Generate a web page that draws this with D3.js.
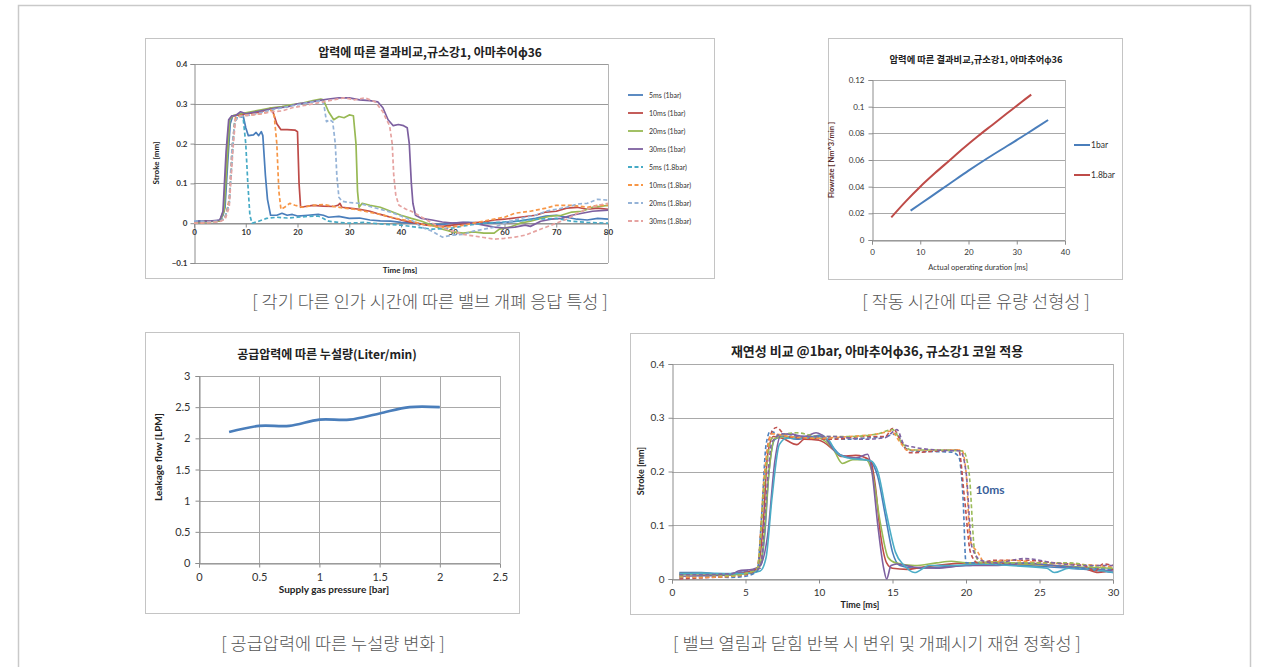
<!DOCTYPE html>
<html><head><meta charset="utf-8">
<script src="https://cdn.jsdelivr.net/npm/d3@7"></script>
<style>
body{margin:0;background:#fff;}
svg{display:block;}
</style></head>
<body>
<svg id="c" width="1261" height="667"></svg>
<script>
// ---------- Panel 1 data : stroke vs time, 8 series ----------
const p1Names = ["5ms (1bar)","10ms (1bar)","20ms (1bar)","30ms (1bar)","5ms (1.8bar)","10ms (1.8bar)","20ms (1.8bar)","30ms (1.8bar)"];
const p1Colors = ["#4a7ebb","#be4b48","#98b954","#7d60a0","#46aac5","#f79646","#95b3d7","#e6a3a1"];
const p1Dashed = [false,false,false,false,true,true,true,true];
const p1XTicks = [0,10,20,30,40,50,60,70,80];
const p1YTicks = [-0.1,0,0.1,0.2,0.3,0.4];
const s5_1 = [[0,0.005],[2,0.006],[4,0.005],[5,0.008],[5.6,0.02],[6,0.04],[6.5,0.15],[7,0.25],[7.5,0.27],[8.5,0.272],[9.5,0.27],[10,0.24],[10.5,0.22],[11.5,0.222],[12,0.228],[12.5,0.22],[13,0.23],[13.3,0.22],[13.8,0.12],[14.2,0.06],[14.8,0.02],[16,0.02],[17,0.025],[18,0.02],[19,0.022],[20,0.018],[22,0.02],[24,0.022],[25,0.02],[26,0.015],[28,0.017],[30,0.012],[32,0.013],[34,0.008],[36,0.006],[38,0.005],[40,0.002],[42,0],[45,-0.002],[48,-0.003],[50,0],[53,0.002],[56,0],[60,0.002],[63,0.006],[66,0.012],[68,0.018],[70,0.02],[72,0.015],[74,0.01],[76,0.008],[78,0.012],[80,0.01]];
const s10_1 = [[0,0.003],[3,0.005],[5,0.006],[5.7,0.03],[6.3,0.15],[6.8,0.26],[7.5,0.27],[9,0.272],[10,0.275],[12,0.278],[13,0.28],[14,0.285],[15,0.29],[15.5,0.27],[16,0.25],[16.8,0.235],[18,0.235],[19.5,0.234],[20,0.23],[20.3,0.1],[20.6,0.04],[21.5,0.042],[23,0.045],[25,0.043],[27,0.042],[27.8,0.045],[28.2,0.05],[28.6,0.04],[30,0.038],[32,0.035],[34,0.03],[36,0.022],[38,0.015],[40,0.008],[42,0.002],[45,-0.005],[48,-0.008],[50,-0.005],[53,0],[56,0.003],[58,0.008],[60,0.01],[63,0.015],[66,0.02],[68,0.028],[70,0.03],[72,0.038],[74,0.04],[76,0.035],[78,0.038],[80,0.035]];
const s20_1 = [[0,0.002],[3,0.004],[5,0.006],[5.8,0.03],[6.4,0.16],[6.9,0.26],[7.5,0.27],[9,0.275],[11,0.28],[13,0.285],[15,0.29],[17,0.293],[19,0.298],[21,0.302],[23,0.308],[24.5,0.312],[25,0.31],[26,0.28],[27,0.26],[28,0.268],[29,0.265],[30,0.272],[30.8,0.27],[31.3,0.2],[31.6,0.08],[31.9,0.04],[32.5,0.05],[34,0.045],[36,0.04],[38,0.03],[40,0.02],[42,0.012],[44,0.005],[46,-0.005],[48,-0.015],[50,-0.022],[52,-0.025],[54,-0.022],[56,-0.025],[58,-0.025],[59,-0.015],[61,-0.01],[63,0],[65,0.005],[67,0.012],[69,0.018],[71,0.02],[73,0.028],[75,0.03],[77,0.04],[80,0.045]];
const s30_1 = [[0,0.004],[3,0.005],[5,0.008],[5.6,0.03],[6.2,0.18],[6.7,0.26],[7.3,0.27],[8,0.27],[9,0.28],[10,0.275],[12,0.28],[14,0.285],[16,0.29],[18,0.292],[20,0.3],[22,0.303],[24,0.308],[26,0.312],[28,0.315],[30,0.315],[32,0.31],[34,0.308],[35.5,0.305],[36.5,0.29],[37.5,0.26],[38.5,0.245],[39.5,0.248],[40.5,0.245],[41.2,0.24],[41.6,0.2],[42,0.1],[42.3,0.05],[42.8,0.02],[44,0.012],[46,0.008],[48,0.003],[50,0],[52,0.002],[54,0],[56,-0.005],[58,-0.01],[60,-0.012],[62,-0.01],[64,-0.005],[65,-0.008],[67,0.005],[69,0.01],[71,0.012],[73,0.02],[75,0.025],[77,0.03],[80,0.033]];
const s5_18 = [[0,0.002],[3,0.003],[5,0.005],[6,0.015],[6.8,0.05],[7.3,0.15],[7.8,0.25],[8.5,0.27],[9.5,0.265],[10,0.2],[10.4,0.1],[10.8,0.02],[11.2,0],[12.5,0.005],[14,0.012],[16,0.015],[18,0.013],[20,0.015],[22,0.017],[24,0.018],[25,0.012],[26,0.005],[28,0.002],[30,0],[33,0.002],[36,-0.002],[40,-0.005],[43,-0.01],[46,-0.015],[50,-0.012],[53,-0.005],[56,0],[60,0.003],[63,0.006],[66,0.01],[70,0.012],[73,0.005],[76,0.002],[80,0]];
const s10_18 = [[0,0],[3,0.002],[5,0.005],[6,0.012],[6.8,0.06],[7.4,0.2],[8,0.265],[9,0.27],[11,0.272],[13,0.275],[14.5,0.28],[15,0.285],[15.5,0.27],[16,0.2],[16.4,0.08],[16.8,0.035],[17.5,0.04],[18.5,0.05],[19.5,0.045],[21,0.04],[23,0.045],[25,0.047],[27,0.042],[29,0.038],[31,0.035],[33,0.03],[36,0.022],[39,0.012],[42,0.005],[45,-0.005],[48,-0.01],[51,-0.008],[54,0],[57,0.008],[60,0.015],[62,0.025],[65,0.03],[68,0.038],[70,0.045],[73,0.045],[76,0.04],[78,0.045],[80,0.045]];
const s20_18 = [[0,0.006],[3,0.004],[5,0.005],[6,0.012],[6.8,0.05],[7.4,0.2],[8,0.26],[9,0.268],[11,0.272],[13,0.278],[15,0.285],[17,0.29],[19,0.295],[21,0.3],[23,0.305],[24.8,0.308],[25.2,0.29],[25.6,0.255],[26.2,0.26],[26.8,0.255],[27.3,0.2],[27.6,0.12],[28,0.065],[28.6,0.055],[30,0.052],[32,0.05],[34,0.042],[36,0.035],[38,0.028],[40,0.018],[42,0.008],[44,-0.01],[46,-0.02],[48,-0.035],[50,-0.03],[52,-0.028],[54,-0.02],[56,-0.015],[58,-0.01],[60,0],[62,0.008],[64,0.015],[66,0.02],[68,0.03],[70,0.035],[72,0.04],[74,0.048],[76,0.05],[78,0.06],[80,0.058]];
const s30_18 = [[0,0],[3,0.002],[5,0.004],[6,0.01],[6.8,0.04],[7.5,0.18],[8,0.26],[9,0.27],[11,0.272],[13,0.275],[15,0.28],[17,0.282],[19,0.29],[21,0.295],[23,0.3],[25,0.305],[27,0.31],[29,0.315],[31,0.31],[33,0.315],[35,0.305],[36.5,0.28],[37.2,0.26],[37.8,0.245],[38.3,0.2],[38.6,0.12],[39,0.07],[39.6,0.045],[41,0.035],[42,0.03],[44,0.015],[46,0],[48,-0.012],[50,-0.02],[52,-0.028],[54,-0.032],[56,-0.036],[58,-0.04],[60,-0.038],[62,-0.035],[64,-0.03],[66,-0.02],[68,-0.01],[70,0],[72,0.01],[74,0.025],[76,0.035],[78,0.045],[80,0.05]];
const p1Series = [s5_1,s10_1,s20_1,s30_1,s5_18,s10_18,s20_18,s30_18];

// ---------- Panel 2 data : flowrate vs operating duration ----------
const p2Names = ["1bar","1.8bar"];
const p2Colors = ["#4a7ebb","#be4b48"];
const flow1bar  = [[8,0.022],[12,0.032],[16,0.042],[20,0.052],[24,0.0615],[28,0.0705],[32,0.0795],[36.5,0.09]];
const flow18bar = [[4,0.017],[7,0.029],[10,0.04],[13,0.05],[16,0.0595],[19,0.069],[22,0.078],[25,0.0865],[28,0.095],[31,0.1035],[33,0.109]];
const p2XTicks = [0,10,20,30,40];
const p2YTicks = [0,0.02,0.04,0.06,0.08,0.1,0.12];

// ---------- Panel 3 data : leakage vs supply pressure ----------
const leakPressure = [0.25,0.5,0.75,1,1.25,1.5,1.75,2];
const leakFlow     = [2.1,2.2,2.2,2.3,2.3,2.4,2.5,2.5];
const p3XTicks = [0,0.5,1,1.5,2,2.5];
const p3YTicks = [0,0.5,1,1.5,2,2.5,3];

// ---------- Panel 4 data : repeatability ----------
const p4Colors = ["#4a7ebb","#be4b48","#98b954","#7d60a0","#4bacc6","#4f81bd","#c0504d","#f79646","#9bbb59","#8064a2"];
const p4Dashed = [false,false,false,false,false,true,true,true,true,true];
const rSolidBlue = [[0.5,0.012],[2,0.012],[3.5,0.008],[4.5,0.012],[5.5,0.015],[6,0.025],[6.3,0.08],[6.6,0.2],[7,0.26],[7.5,0.265],[8.5,0.26],[9.5,0.265],[10.2,0.268],[10.8,0.25],[11.5,0.23],[12.5,0.225],[13.5,0.218],[14,0.19],[14.5,0.12],[15,0.05],[15.5,0.025],[16.5,0.02],[18,0.022],[20,0.025],[22,0.028],[24,0.025],[26,0.022],[28,0.018],[30,0.012]];
const rSolidRed = [[0.5,0.01],[2,0.01],[4,0.008],[5,0.012],[5.8,0.02],[6.2,0.1],[6.5,0.23],[6.9,0.265],[7.5,0.262],[8.5,0.25],[9,0.26],[10,0.258],[11,0.24],[11.5,0.228],[12.5,0.23],[13.5,0.22],[13.8,0.18],[14.2,0.08],[14.6,0.03],[15,0.02],[16,0.018],[17,0.022],[18,0.025],[20,0.03],[22,0.03],[24,0.028],[26,0.025],[28,0.02],[29,0.012],[30,0.018]];
const rSolidGreen = [[0.5,0.008],[2,0.01],[4,0.008],[5,0.01],[5.8,0.015],[6.2,0.06],[6.6,0.2],[7,0.262],[8,0.265],[9,0.262],[10,0.262],[11,0.24],[11.6,0.215],[12.3,0.222],[13.2,0.222],[13.6,0.2],[14.2,0.1],[14.7,0.04],[15.2,0.03],[16.5,0.025],[18,0.03],[19,0.033],[20,0.03],[22,0.032],[24,0.028],[26,0.025],[28,0.022],[30,0.02]];
const rSolidPurple = [[0.5,0.005],[2,0.006],[4,0.008],[4.5,0.015],[5.5,0.018],[6,0.025],[6.5,0.08],[7,0.22],[7.4,0.268],[8,0.27],[9,0.265],[9.8,0.272],[10.5,0.26],[11,0.24],[11.5,0.23],[12.5,0.225],[13.3,0.232],[13.6,0.2],[14,0.1],[14.4,0.02],[14.6,0],[14.9,0.025],[15.3,0.028],[16.5,0.022],[18,0.02],[20,0.025],[22,0.025],[24,0.03],[26,0.025],[28,0.02],[30,0.015]];
const rSolidTeal = [[0.5,0.01],[2,0.011],[4,0.01],[5,0.01],[6,0.015],[6.4,0.04],[6.8,0.15],[7.3,0.25],[7.8,0.262],[9,0.262],[10,0.265],[10.6,0.26],[11.2,0.235],[12,0.225],[13.5,0.22],[14,0.2],[14.6,0.12],[15.2,0.05],[15.8,0.025],[16.5,0.012],[17.5,0.025],[19,0.025],[21,0.028],[23,0.025],[25.5,0.02],[26,0.012],[27,0.02],[28.5,0.018],[30,0.012]];
const rDashBlue = [[0.5,0.002],[2,0.005],[4,0.003],[5,0.005],[5.8,0.015],[6.1,0.12],[6.4,0.25],[6.7,0.275],[7.5,0.265],[9,0.265],[11,0.262],[12,0.26],[13,0.262],[14.5,0.265],[15.3,0.27],[15.8,0.245],[16.5,0.238],[18,0.237],[19,0.236],[19.5,0.228],[19.8,0.15],[20,0.03],[21,0.03],[22.5,0.028],[24,0.03],[26,0.025],[28,0.02],[30,0.018]];
const rDashRed = [[0.5,0.0],[2,0.002],[4,0.005],[5,0.008],[5.8,0.02],[6.2,0.15],[6.6,0.26],[7.1,0.282],[7.8,0.265],[9,0.262],[11,0.26],[13,0.265],[14.5,0.265],[15,0.28],[15.7,0.25],[16.2,0.235],[18,0.238],[19.5,0.24],[19.9,0.15],[20.3,0.05],[20.8,0.03],[22,0.035],[24,0.035],[26,0.03],[28,0.025],[28.8,0.015],[29.3,0.028],[30,0.025]];
const rDashOrange = [[0.5,0.004],[2,0.003],[4,0.005],[5,0.01],[5.8,0.02],[6.3,0.2],[6.8,0.27],[8,0.265],[10,0.262],[12,0.265],[14,0.27],[14.9,0.275],[15.5,0.255],[16,0.24],[18,0.24],[19.7,0.24],[20,0.2],[20.3,0.07],[20.8,0.05],[21.3,0.03],[23,0.035],[25,0.03],[27,0.028],[29,0.025],[30,0.022]];
const rDashGreen = [[0.5,0.006],[2,0.008],[4,0.006],[5,0.01],[5.8,0.02],[6.3,0.18],[6.8,0.262],[8.5,0.272],[10,0.265],[12,0.265],[14,0.27],[15,0.278],[15.6,0.255],[16.3,0.24],[18,0.24],[19.8,0.238],[20.2,0.2],[20.6,0.05],[21,0.03],[23,0.03],[25,0.03],[27,0.03],[29,0.022],[30,0.02]];
const rDashPurple = [[0.5,0.008],[2,0.008],[4,0.01],[5,0.015],[6,0.02],[6.4,0.15],[6.8,0.255],[7.5,0.27],[9,0.265],[11,0.265],[13,0.26],[14.5,0.263],[15.3,0.278],[15.8,0.25],[16.5,0.245],[18,0.24],[19.6,0.238],[20,0.2],[20.4,0.06],[21,0.035],[22,0.03],[24,0.038],[26,0.03],[28,0.025],[30,0.025]];
const p4Series = [rSolidBlue,rSolidRed,rSolidGreen,rSolidPurple,rSolidTeal,rDashBlue,rDashRed,rDashOrange,rDashGreen,rDashPurple];
const p4XTicks = [0,5,10,15,20,25,30];
const p4YTicks = [0,0.1,0.2,0.3,0.4];

// ---------- texts ----------
const titles = ["압력에 따른 결과비교,규소강1, 아마추어ϕ36","압력에 따른 결과비교,규소강1, 아마추어ϕ36","공급압력에 따른 누설량(Liter/min)","재연성 비교 @1bar, 아마추어ϕ36, 규소강1 코일 적용"];
const captions = ["[ 각기 다른 인가 시간에 따른 밸브 개폐 응답 특성 ]","[ 작동 시간에 따른 유량 선형성 ]","[ 공급압력에 따른 누설량 변화 ]","[ 밸브 열림과 닫힘 반복 시 변위 및 개폐시기 재현 정확성 ]"];

const KR = "'Noto Sans CJK KR','Noto Sans',sans-serif";
const LAT = "'Lato','Open Sans','Noto Sans',sans-serif";
const svg = d3.select("#c");

// outer frame
svg.append("rect").attr("x",18.5).attr("y",5.5).attr("width",1232).attr("height",680)
  .attr("fill","none").attr("stroke","#c9c9c9").attr("stroke-width",1.5);

function frame(x,y,w,h){
  svg.append("rect").attr("x",x+0.5).attr("y",y+0.5).attr("width",w).attr("height",h)
    .attr("fill","#fff").attr("stroke","#c4c4c4").attr("stroke-width",1);
}

function axesFrame(g, xs, ys, xTicks, yTicks, opt){
  const [x0,x1] = xs.range(), [yb,yt] = ys.range();
  g.append("g").selectAll("line").data(yTicks).join("line")
    .attr("x1",x0).attr("x2",x1).attr("y1",d=>Math.round(ys(d))+0.5).attr("y2",d=>Math.round(ys(d))+0.5)
    .attr("stroke",opt.grid||"#a6a6a6").attr("stroke-width",1);
  if(opt.vgrid){
    g.append("g").selectAll("line").data(xTicks).join("line")
      .attr("y1",yb).attr("y2",yt).attr("x1",d=>Math.round(xs(d))+0.5).attr("x2",d=>Math.round(xs(d))+0.5)
      .attr("stroke",opt.grid||"#a6a6a6").attr("stroke-width",1);
  }
  g.append("line").attr("x1",Math.round(x1)+0.5).attr("x2",Math.round(x1)+0.5).attr("y1",yt).attr("y2",yb)
    .attr("stroke","#b5b5b5");
  const ya = d3.axisLeft(ys).tickValues(yTicks).tickSize(4).tickPadding(opt.ypad||3).tickFormat(opt.yfmt||(d=>d));
  const yg = g.append("g").attr("transform",`translate(${Math.round(x0)+0.5},0)`).call(ya);
  yg.select(".domain").attr("stroke","#8c8c8c");
  yg.selectAll(".tick line").attr("stroke","#8c8c8c");
  yg.selectAll("text").attr("font-family",LAT).attr("font-size",opt.fs).attr("fill","#333").attr("font-weight",opt.tw||"normal");
  const xa = d3.axisBottom(xs).tickValues(xTicks).tickSize(4).tickPadding(opt.xpad||3).tickFormat(opt.xfmt||(d=>d));
  const xg = g.append("g").attr("transform",`translate(0,${Math.round(opt.xAt)+0.5})`).call(xa);
  xg.select(".domain").attr("stroke","#8c8c8c");
  xg.selectAll(".tick line").attr("stroke","#8c8c8c");
  xg.selectAll("text").attr("font-family",LAT).attr("font-size",opt.fs).attr("fill","#333").attr("font-weight",opt.tw||"normal");
}

function text(x,y,s,o){
  const t = svg.append("text").attr("x",x).attr("y",y).text(s)
    .attr("font-family",o.ff||KR).attr("font-size",o.fs).attr("font-weight",o.fw||"normal")
    .attr("fill",o.fill||"#222").attr("text-anchor",o.anchor||"middle");
  if(o.rot) t.attr("transform",`rotate(-90,${x},${y})`);
  return t;
}
const capStyle = {fs:"17.5px",fw:"300",fill:"#555"};

// ================= Panel 1 =================
frame(145,38,569,240);
{
  const g = svg.append("g");
  const xs = d3.scaleLinear().domain([0,80]).range([194,608]);
  const ys = d3.scaleLinear().domain([-0.1,0.4]).range([263,64]);
  axesFrame(g,xs,ys,p1XTicks,p1YTicks,{fs:"8px",tw:"bold",xAt:ys(0),grid:"#9a9a9a",xpad:2,
    yfmt:d=>d===0?"0":d3.format(".1f")(d)});
  const line = d3.line().x(d=>xs(d[0])).y(d=>ys(d[1])).curve(d3.curveLinear);
  p1Series.forEach((s,i)=>{
    g.append("path").attr("d",line(s)).attr("fill","none").attr("stroke",p1Colors[i])
      .attr("stroke-width",1.7).attr("stroke-dasharray",p1Dashed[i]?"4,2.5":null).attr("stroke-linejoin","round");
  });
  text(430,57,titles[0],{fs:"12px",fw:"bold"});
  text(400,273,"Time [ms]",{ff:LAT,fs:"8px",fw:"bold"});
  text(159,163,"Stroke [mm]",{ff:LAT,fs:"8px",fw:"bold",rot:true});
  const lg = g.append("g");
  p1Names.forEach((n,i)=>{
    const y = 95+i*18;
    lg.append("line").attr("x1",628).attr("x2",643).attr("y1",y).attr("y2",y)
      .attr("stroke",p1Colors[i]).attr("stroke-width",1.8).attr("stroke-dasharray",p1Dashed[i]?"4,2.5":null);
    lg.append("text").attr("x",649).attr("y",y+2.5).text(n).attr("font-family",LAT)
      .attr("font-size","7px").attr("fill","#333");
  });
}
text(430,307.5,captions[0],capStyle);

// ================= Panel 2 =================
frame(828,38,294,241);
{
  const g = svg.append("g");
  const xs = d3.scaleLinear().domain([0,40]).range([872,1065]);
  const ys = d3.scaleLinear().domain([0,0.12]).range([240,80]);
  axesFrame(g,xs,ys,p2XTicks,p2YTicks,{fs:"8px",xAt:ys(0),grid:"#a8a8a8",ypad:4,xpad:5,
    yfmt:d=>d===0?"0":String(+d.toFixed(2))});
  const line = d3.line().x(d=>xs(d[0])).y(d=>ys(d[1])).curve(d3.curveCatmullRom.alpha(0.5));
  [flow1bar,flow18bar].forEach((s,i)=>{
    g.append("path").attr("d",line(s)).attr("fill","none").attr("stroke",p2Colors[i]).attr("stroke-width",2);
  });
  text(976,63,titles[1],{fs:"9.3px",fw:"600"});
  text(978,270,"Actual operating duration [ms]",{ff:LAT,fs:"7.5px",fill:"#333"});
  text(834,160,"Flowrate [ Nm^3/min ]",{ff:LAT,fs:"7.5px",fw:"bold",fill:"#5a2a2a",rot:true});
  p2Names.forEach((n,i)=>{
    const y = 145+i*30;
    g.append("line").attr("x1",1074).attr("x2",1090).attr("y1",y).attr("y2",y).attr("stroke",p2Colors[i]).attr("stroke-width",2);
    g.append("text").attr("x",1091).attr("y",y+3).text(n).attr("font-family",LAT).attr("font-size","8.5px").attr("fill","#333");
  });
}
text(976,307.5,captions[1],capStyle);

// ================= Panel 3 =================
frame(145,332,374,281);
{
  const g = svg.append("g");
  const xs = d3.scaleLinear().domain([0,2.5]).range([199,500]);
  const ys = d3.scaleLinear().domain([0,3]).range([563,376]);
  axesFrame(g,xs,ys,p3XTicks,p3YTicks,{fs:"11px",xAt:ys(0),vgrid:true,grid:"#a9a9a9",ypad:5,xpad:6});
  const line = d3.line().x(d=>xs(d[0])).y(d=>ys(d[1])).curve(d3.curveCatmullRom.alpha(0.5));
  const pts = leakPressure.map((p,i)=>[p,leakFlow[i]]);
  g.append("path").attr("d",line(pts)).attr("fill","none").attr("stroke","#4a7ebb").attr("stroke-width",2.6);
  text(327,359,titles[2],{fs:"12px",fw:"bold"});
  text(334,593,"Supply gas pressure [bar]",{ff:LAT,fs:"10px",fw:"bold"});
  text(162,457,"Leakage flow [LPM]",{ff:LAT,fs:"10px",fw:"bold",rot:true});
}
text(333,649.5,captions[2],capStyle);

// ================= Panel 4 =================
frame(630,333,493,281);
{
  const g = svg.append("g");
  const xs = d3.scaleLinear().domain([0,30]).range([672,1113]);
  const ys = d3.scaleLinear().domain([0,0.4]).range([579,364]);
  axesFrame(g,xs,ys,p4XTicks,p4YTicks,{fs:"10px",xAt:ys(0),grid:"#a9a9a9",ypad:4,xpad:5,
    yfmt:d=>d===0?"0":d3.format(".1f")(d)});
  const line = d3.line().x(d=>xs(d[0])).y(d=>ys(d[1])).curve(d3.curveMonotoneX);
  p4Series.forEach((s,i)=>{
    g.append("path").attr("d",line(s)).attr("fill","none").attr("stroke",p4Colors[i])
      .attr("stroke-width",1.6).attr("stroke-dasharray",p4Dashed[i]?"4,2.5":null);
  });
  text(877,356,titles[3],{fs:"13px",fw:"bold"});
  text(860,608,"Time [ms]",{ff:LAT,fs:"9px",fw:"bold"});
  text(644,471,"Stroke [mm]",{ff:LAT,fs:"9px",fw:"bold",rot:true});
  text(990,494,"10ms",{ff:LAT,fs:"12px",fw:"bold",fill:"#3a5f9a"});
}
text(877,649.5,captions[3],capStyle);
</script>
</body></html>
